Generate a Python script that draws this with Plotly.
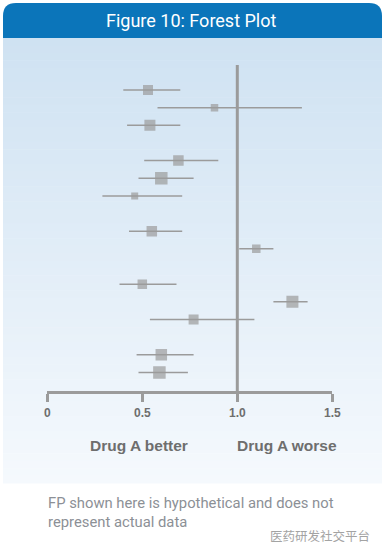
import plotly.graph_objects as go

# ---- data ----
studies = [f"Study {i}" for i in range(1, 14)]
row_pos = [0, 1, 2, 4, 5, 6, 8, 9, 11, 12, 13, 15, 16]
estimate = [0.53, 0.88, 0.54, 0.69, 0.60, 0.46, 0.55, 1.10, 0.50, 1.29, 0.77, 0.60, 0.59]
ci_low = [0.40, 0.58, 0.42, 0.51, 0.48, 0.29, 0.43, 1.01, 0.38, 1.19, 0.54, 0.47, 0.48]
ci_high = [0.70, 1.34, 0.70, 0.90, 0.77, 0.71, 0.71, 1.19, 0.68, 1.37, 1.09, 0.77, 0.74]
weight = [10, 7.5, 11, 10.5, 12.5, 7, 10.5, 8.5, 9.5, 12, 10, 11.5, 12.5]
tick_vals = [0, 0.5, 1.0, 1.5]
tick_text = ["0", "0.5", "1.0", "1.5"]

W, H = 387, 553
GRAY = "#9b9b9b"
LABEL = "#6e6e6e"


def px(x):
    return x / W


def py(y):
    return 1 - y / H


fig = go.Figure()

fig.add_trace(go.Scatter(
    x=estimate, y=row_pos, mode="markers", text=studies,
    marker=dict(symbol="square", size=weight, color=GRAY, line=dict(width=0)),
    error_x=dict(type="data", symmetric=False,
                 array=[h - e for h, e in zip(ci_high, estimate)],
                 arrayminus=[e - l for e, l in zip(estimate, ci_low)],
                 color=GRAY, thickness=1.5, width=0),
    hoverinfo="text", showlegend=False,
))

shapes = []
# gradient card body
top, bot = 38, 483
n = 60
c0 = (0xcf, 0xe2, 0xf2)
c1 = (0xf5, 0xf9, 0xfd)
for i in range(n):
    t = i / (n - 1)
    c = tuple(round(a + (b - a) * t) for a, b in zip(c0, c1))
    y0 = top + (bot - top) * i / n
    y1 = top + (bot - top) * (i + 1) / n + 0.5
    shapes.append(dict(type="rect", xref="paper", yref="paper", layer="below",
                       x0=px(3), x1=px(382), y0=py(y1), y1=py(y0),
                       fillcolor="rgb(%d,%d,%d)" % c, line=dict(width=0)))
# rounded header
r = 13
x0h, x1h, y0h, y1h = 3, 382, 3, 38
path = (f"M {px(x0h)},{py(y1h)} L {px(x0h)},{py(y0h + r)} "
        f"Q {px(x0h)},{py(y0h)} {px(x0h + r)},{py(y0h)} "
        f"L {px(x1h - r)},{py(y0h)} Q {px(x1h)},{py(y0h)} {px(x1h)},{py(y0h + r)} "
        f"L {px(x1h)},{py(y1h)} Z")
shapes.append(dict(type="path", xref="paper", yref="paper", path=path, layer="below",
                   fillcolor="#0b75ba", line=dict(width=0)))
# line of no effect
shapes.append(dict(type="line", xref="x", yref="y domain", x0=1, x1=1, y0=0, y1=1,
                   line=dict(color=GRAY, width=3), layer="below"))

annotations = [
    dict(text="Figure 10: Forest Plot", x=px(191), y=py(20.5), xref="paper", yref="paper",
         xanchor="center", yanchor="middle",
         showarrow=False, font=dict(family="Roboto", size=18, color="white")),
    dict(text="<b>Drug A better</b>", x=0.485, y=py(445), xref="x", yref="paper",
         xanchor="center", yanchor="middle",
         showarrow=False, font=dict(family="Liberation Sans", size=15.5, color=LABEL)),
    dict(text="<b>Drug A worse</b>", x=1.264, y=py(445), xref="x", yref="paper",
         xanchor="center", yanchor="middle",
         showarrow=False, font=dict(family="Liberation Sans", size=15.5, color=LABEL)),
    dict(text="FP shown here is hypothetical and does not<br>represent actual data",
         x=px(46), y=py(512), xref="paper", yref="paper", xanchor="left", yanchor="middle",
         align="left",
         showarrow=False, font=dict(family="Roboto", size=14.8, color="#8c9096")),
    dict(text="医药研发社交平台", x=px(372), y=py(535), xref="paper", yref="paper",
         xanchor="right", yanchor="middle", showarrow=False,
         font=dict(family="Noto Sans CJK SC", size=12.5, color="#a3a3a3")),
]

fig.update_layout(
    width=W, height=H, margin=dict(l=0, r=0, t=0, b=0, pad=0, autoexpand=False),
    paper_bgcolor="white", plot_bgcolor="rgba(0,0,0,0)",
    shapes=shapes, annotations=annotations,
    xaxis=dict(domain=[px(47.3), px(332.3)], range=[0, 1.5], showgrid=False, zeroline=False,
               automargin=False,
               showline=True, linewidth=3, linecolor=GRAY,
               ticks="outside", ticklen=8, tickwidth=3, tickcolor=GRAY,
               tickvals=tick_vals, ticktext=tick_text,
               tickfont=dict(family="Liberation Sans", size=12, color=LABEL, weight="bold")),
    yaxis=dict(domain=[py(391.3), py(65)], range=[17.07, -1.416], showgrid=False,
               automargin=False,
               zeroline=False, showticklabels=False, showline=False),
)

fig.write_html("out.html", config={"responsive": False, "displayModeBar": False},
               post_script=("document.documentElement.style.overflow='hidden';"
                            "document.body.style.margin='0';document.body.style.overflow='hidden';"))
